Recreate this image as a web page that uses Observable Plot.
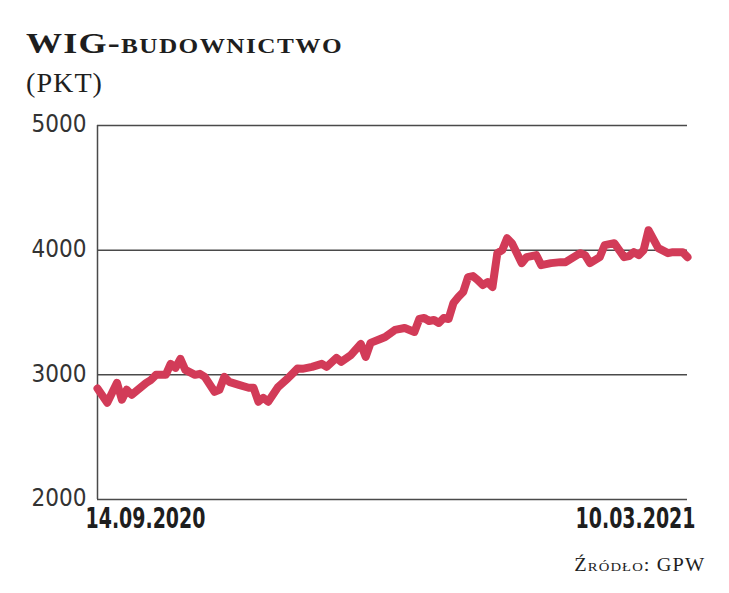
<!DOCTYPE html>
<html>
<head>
<meta charset="utf-8">
<script src="https://cdn.jsdelivr.net/npm/d3@7"></script>
<script src="https://cdn.jsdelivr.net/npm/@observablehq/plot@0.6"></script>
<style>
  html, body { margin: 0; padding: 0; background: #fff; }
  body { width: 729px; height: 593px; position: relative; overflow: hidden; }
  .title { position: absolute; left: 26px; top: 28px; font-family: "Liberation Serif", serif; font-weight: bold; font-size: 30px; color: #1e1e1e; line-height: 1; letter-spacing: 1px; white-space: nowrap; transform-origin: left center; }
  .title .sc { font-variant: small-caps; text-transform: lowercase; letter-spacing: 1.2px; }
  .unit { position: absolute; left: 26px; top: 70px; font-family: "Liberation Serif", serif; font-size: 27px; color: #1e1e1e; line-height: 1; letter-spacing: 1px; white-space: nowrap; transform-origin: left center; }
  .source { position: absolute; right: 24px; top: 556px; font-family: "Liberation Serif", serif; font-size: 18px; color: #1e1e1e; font-variant: small-caps; line-height: 1; letter-spacing: 1px; white-space: nowrap; transform-origin: right center; }
  #chart { position: absolute; left: 0; top: 100px; }
</style>
</head>
<body>
<div class="title" id="title">WIG-<span class="sc">budownictwo</span></div>
<div class="unit" id="unit">(PKT)</div>
<div class="source" id="source">Źródło: GPW</div>
<div id="chart"></div>
<script>
// trading-day index (0 = 14.09.2020, 121 = 10.03.2021) and index value
const day = [0,2,4,5,6,7,10,11,12,14,15,16,17,18,20,21,22,24,25,26,27,29,31,32,33,34,35,37,39,40,41,42,44,46,47,49,50,52,54,55,56,58,59,61,63,65,66,67,68,69,70,71,72,73,74,75,76,77,78,79,80,81,82,83,84,85,87,88,90,91,93,95,96,99,100,101,103,104,106,108,109,110,111,112,113,115,117,118,120,121];
const value = [2890,2776,2936,2800,2880,2840,2936,2960,3000,3000,3088,3056,3128,3040,3000,3008,2984,2864,2880,2984,2944,2920,2896,2896,2784,2816,2784,2900,2970,3010,3050,3048,3064,3088,3064,3136,3104,3160,3248,3144,3256,3288,3304,3360,3376,3344,3448,3456,3432,3440,3416,3456,3448,3576,3624,3664,3784,3792,3760,3720,3744,3704,3976,4000,4096,4056,3896,3944,3960,3880,3896,3904,3904,3976,3960,3896,3944,4040,4056,3944,3952,3984,3960,4000,4160,4016,3976,3984,3984,3944];
const yTicks = [2000, 3000, 4000, 5000];
const gridTicks = [3000, 4000, 5000];
const xTickDays = [0, 121];
const xTickLabels = ["14.09.2020", "10.03.2021"];

const data = day.map((d, i) => ({day: d, value: value[i]}));
const labelFont = "'DejaVu Sans Condensed', 'DejaVu Sans', sans-serif";

const chart = Plot.plot({
  width: 729,
  height: 450,
  marginLeft: 97,
  marginRight: 42,
  marginTop: 25,
  marginBottom: 51,
  x: {domain: [0, 121]},
  y: {domain: [2000, 5000]},
  style: {fontFamily: labelFont, background: "transparent"},
  marks: [
    Plot.ruleY(gridTicks, {stroke: "#4a4a4a", strokeWidth: 1.5}),
    Plot.ruleY([2000], {stroke: "#4a4a4a", strokeWidth: 1.5}),
    Plot.ruleX([0], {y1: 2000, y2: 5000, stroke: "#4a4a4a", strokeWidth: 1.5}),
    Plot.axisY(yTicks, {tickSize: 0, tickPadding: 11, fontSize: 24, fill: "#333", label: null, dy: -1, tickFormat: d => String(d), ariaLabel: "y-axis tick label"}),
    Plot.axisX([xTickDays[0]], {tickSize: 0, tickPadding: 9, fontSize: 28, fontWeight: "bold", fill: "#1e1e1e", textAnchor: "start", dx: -12, label: null, tickFormat: () => xTickLabels[0]}),
    Plot.axisX([xTickDays[1]], {tickSize: 0, tickPadding: 9, fontSize: 28, fontWeight: "bold", fill: "#1e1e1e", textAnchor: "end", dx: 8, label: null, tickFormat: () => xTickLabels[1]}),
    Plot.line(data, {x: "day", y: "value", stroke: "#d23b58", strokeWidth: 8, strokeLinejoin: "round", strokeLinecap: "round"})
  ]
});
document.getElementById("chart").appendChild(chart);
// narrow the label glyphs to match the condensed typeface of the original
function condense(selector, target) {
  d3.select(chart).selectAll(selector).each(function() {
    const w = this.getComputedTextLength();
    if (!w) return;
    const s = target / w;
    const t = this.getAttribute("transform") || "";
    this.setAttribute("transform", t + ` scale(${s},1)`);
  });
}
condense("g[aria-label='x-axis tick label'] text", 120);
condense("g[aria-label='y-axis tick label'] text", 42);
// widen the serif headings to match the wide slab typeface of the original
function widen(id, target) {
  const el = document.getElementById(id);
  const w = el.getBoundingClientRect().width;
  if (w) el.style.transform = `scaleX(${target / w})`;
}
widen("title", 317);
widen("unit", 77);
widen("source", 131);
</script>
</body>
</html>
